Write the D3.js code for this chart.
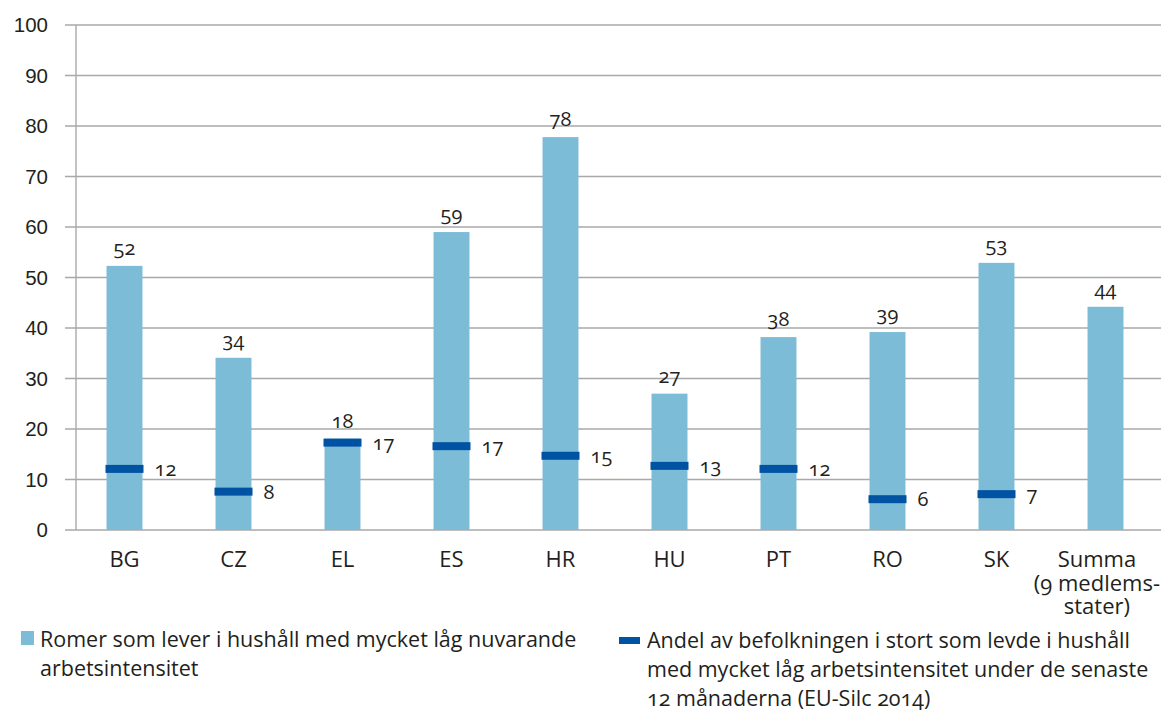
<!DOCTYPE html>
<html><head><meta charset="utf-8">
<script src="https://cdn.jsdelivr.net/npm/d3@7/dist/d3.min.js"></script>
<style>
html,body{margin:0;padding:0;background:#fff;}
svg{display:block;font-family:"Open Sans","Noto Sans",sans-serif;font-variant-numeric:oldstyle-nums;}
</style></head>
<body>
<svg id="chart" width="1161" height="711"></svg>
<script>
const categories = ["BG","CZ","EL","ES","HR","HU","PT","RO","SK","Summa\n(9 medlems-\nstater)"];
const romaValues = [52.3, 34.1, 18.1, 59.0, 77.8, 27.0, 38.2, 39.2, 52.9, 44.2];
const romaLabels = ["52","34","18","59","78","27","38","39","53","44"];
const generalValues = [12.1, 7.6, 17.3, 16.6, 14.7, 12.7, 12.1, 6.1, 7.1, null];
const generalLabels = ["12","8","17","17","15","13","12","6","7",""];
const yTicks = [0,10,20,30,40,50,60,70,80,90,100];
const legendLabels = [
  ["Romer som lever i hushåll med mycket låg nuvarande","arbetsintensitet"],
  ["Andel av befolkningen i stort som levde i hushåll","med mycket låg arbetsintensitet under de senaste","12 månaderna (EU-Silc 2014)"]
];

const W = 1161, H = 711;
const barColor = "#7dbcd7", markColor = "#0052a2", gridColor = "#a9a9a9", textColor = "#231f20";
const svg = d3.select("#chart");

const x = d3.scaleBand().domain(categories).range([70, 1160]).paddingInner(0.67).paddingOuter(0.335);
const y = d3.scaleLinear().domain([0, 100]).range([530, 25]);
const axisX = 76;

// y tick labels
svg.append("g").attr("transform", "translate(65,0)")
  .call(d3.axisLeft(y).tickValues(yTicks).tickSize(0).tickFormat(d3.format("d")))
  .call(g => g.select(".domain").remove())
  .call(g => g.selectAll("text").attr("x", -17).attr("dy", "0.32em")
      .style("font-size", "20.5px").attr("fill", textColor));
// gridlines + axis line
svg.append("g").selectAll("line").data(yTicks).join("line")
  .attr("x1", 65).attr("x2", W).attr("y1", d => y(d)).attr("y2", d => y(d))
  .attr("stroke", gridColor).attr("stroke-width", 1.4);
svg.append("line").attr("x1", axisX).attr("x2", axisX).attr("y1", y(100)).attr("y2", y(0))
  .attr("stroke", gridColor).attr("stroke-width", 1.4);

// bars
svg.append("g").selectAll("rect").data(categories).join("rect")
  .attr("x", d => x(d)).attr("width", x.bandwidth())
  .attr("y", (d, i) => y(romaValues[i])).attr("height", (d, i) => y(0) - y(romaValues[i]))
  .attr("fill", barColor);

// bar value labels
svg.append("g").selectAll("text").data(categories).join("text")
  .attr("x", d => x(d) + x.bandwidth() / 2)
  .attr("y", (d, i) => y(romaValues[i]) - 11)
  .attr("text-anchor", "middle").attr("fill", textColor).style("font-size", "20px")
  .text((d, i) => romaLabels[i]);

// markers
const mk = categories.map((c, i) => ({c, v: generalValues[i], l: generalLabels[i]})).filter(d => d.v != null);
svg.append("g").selectAll("rect").data(mk).join("rect")
  .attr("x", d => x(d.c) + x.bandwidth() / 2 - 19).attr("width", 38)
  .attr("y", d => y(d.v) - 4).attr("height", 8).attr("fill", markColor);
svg.append("g").selectAll("text").data(mk).join("text")
  .attr("x", d => x(d.c) + x.bandwidth() / 2 + 30)
  .attr("y", d => y(d.v)).attr("dy", "0.35em")
  .attr("fill", textColor).style("font-size", "20px")
  .text(d => d.l);

// category labels
const cat = svg.append("g").selectAll("text").data(categories).join("text")
  .attr("text-anchor", "middle").attr("fill", textColor).style("font-size", "22px");
cat.each(function(d) {
  const t = d3.select(this);
  const lines = d.split("\n");
  lines.forEach((ln, k) => t.append("tspan").attr("x", 0).attr("y", 567 + k * 23.5).text(ln));
  const w = this.getBBox().width;
  const cx = Math.min(x(d) + x.bandwidth() / 2, W - 1 - w / 2);
  t.attr("transform", `translate(${cx},0)`);
});

// legend
const lg1 = svg.append("g");
lg1.append("rect").attr("x", 21).attr("y", 631).attr("width", 13).attr("height", 14).attr("fill", barColor);
lg1.append("text").attr("fill", textColor).style("font-size", "21.5px")
  .selectAll("tspan").data(legendLabels[0]).join("tspan")
  .attr("x", 40).attr("y", (d, i) => 647 + i * 29).text(d => d);
const lg2 = svg.append("g");
lg2.append("rect").attr("x", 619).attr("y", 637).attr("width", 21).attr("height", 7).attr("fill", markColor);
lg2.append("text").attr("fill", textColor).style("font-size", "21.5px")
  .selectAll("tspan").data(legendLabels[1]).join("tspan")
  .attr("x", 647).attr("y", (d, i) => 648 + i * 29).text(d => d);
</script>
</body></html>
